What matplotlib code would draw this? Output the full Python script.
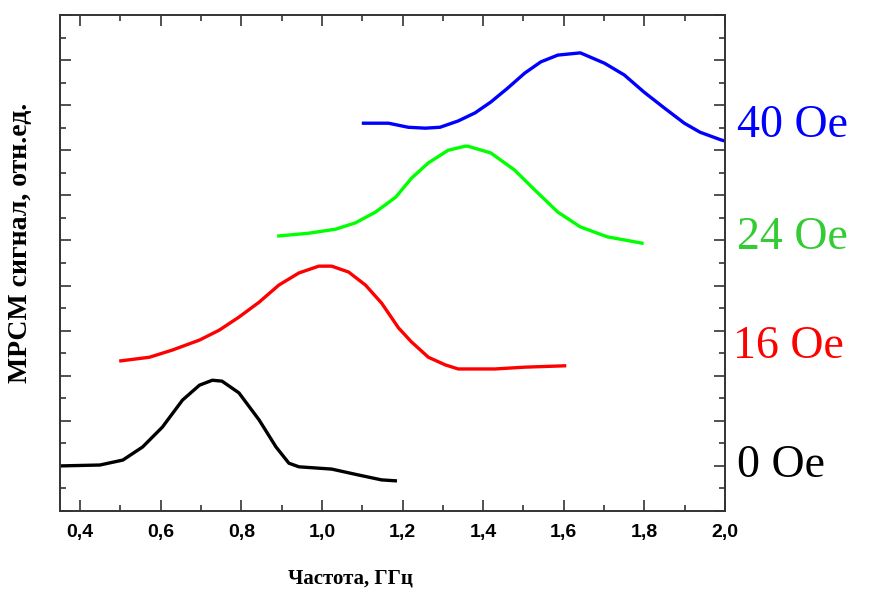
import numpy as np
import matplotlib
matplotlib.use('Agg')
import matplotlib.pyplot as plt
from matplotlib.ticker import MultipleLocator, FuncFormatter

# curves (frequency GHz, signal in arb. units with offsets)
f_0 = [0.35, 0.449, 0.506, 0.555, 0.604, 0.654, 0.696, 0.728, 0.752, 0.794,
       0.844, 0.886, 0.918, 0.943, 1.024, 1.09, 1.148, 1.182]
s_0 = [1.0, 1.02, 1.13, 1.42, 1.86, 2.46, 2.79, 2.90, 2.88, 2.62,
       2.02, 1.42, 1.06, 0.98, 0.93, 0.80, 0.69, 0.67]

f_16 = [0.501, 0.572, 0.629, 0.696, 0.745, 0.794, 0.844, 0.893, 0.943, 0.992,
        1.024, 1.066, 1.108, 1.148, 1.190, 1.222, 1.264, 1.306, 1.338, 1.429,
        1.503, 1.602]
s_16 = [3.33, 3.41, 3.57, 3.79, 4.01, 4.30, 4.63, 5.01, 5.28, 5.43,
        5.43, 5.30, 5.01, 4.61, 4.06, 3.75, 3.41, 3.24, 3.15, 3.15,
        3.19, 3.22]

f_24 = [0.893, 0.967, 1.034, 1.083, 1.133, 1.183, 1.222, 1.264, 1.313, 1.355,
        1.362, 1.419, 1.478, 1.528, 1.585, 1.641, 1.708, 1.794]
s_24 = [6.10, 6.16, 6.25, 6.39, 6.63, 6.96, 7.38, 7.72, 8.00, 8.09,
        8.09, 7.94, 7.56, 7.12, 6.63, 6.30, 6.08, 5.94]

f_40 = [1.103, 1.165, 1.214, 1.256, 1.293, 1.338, 1.380, 1.419, 1.461, 1.503,
        1.543, 1.585, 1.641, 1.701, 1.750, 1.799, 1.849, 1.899, 1.938, 1.990, 2.01]
s_40 = [8.60, 8.60, 8.51, 8.49, 8.51, 8.65, 8.83, 9.07, 9.38, 9.71,
        9.96, 10.11, 10.16, 9.93, 9.67, 9.29, 8.94, 8.60, 8.40, 8.23, 8.18]

labels = ['0 Oe', '16 Oe', '24 Oe', '40 Oe']
label_y = [1.0, 3.65, 6.05, 8.55]
label_x = [2.03, 2.02, 2.03, 2.03]
line_colors = ['black', '#ff0000', '#00ff00', '#0000ff']
text_colors = ['black', '#ff0000', '#33cc33', '#0000ff']

fig = plt.figure(figsize=(8.73, 5.92), dpi=100)
ax = fig.add_axes([0.0687, 0.1368, 0.8305 - 0.0687, 0.9747 - 0.1368])

curves = [(f_0, s_0), (f_16, s_16), (f_24, s_24), (f_40, s_40)]
for (f, s), c in zip(curves, line_colors):
    ax.plot(f, s, color=c, lw=2.4, solid_joinstyle='round')

for lab, x, y, c in zip(labels, label_x, label_y, text_colors):
    ax.text(x, y, lab, color=c, fontsize=33, family='Liberation Serif',
            va='center', ha='left', clip_on=False)

ax.set_xlim(0.35, 2.0)
ax.set_ylim(0, 11)
ax.xaxis.set_major_locator(MultipleLocator(0.2))
ax.xaxis.set_minor_locator(MultipleLocator(0.1))
ax.yaxis.set_major_locator(MultipleLocator(1))
ax.yaxis.set_minor_locator(MultipleLocator(0.5))
ax.xaxis.set_major_formatter(FuncFormatter(lambda v, p: f'{v:.1f}'.replace('.', ',')))
ax.tick_params(which='both', direction='in', top=True, right=True,
               labelleft=False, color='#333333', width=1.2)
ax.tick_params(which='major', length=8)
ax.tick_params(which='minor', length=4)
for lab in ax.get_xticklabels():
    lab.set_family('Liberation Sans')
    lab.set_fontweight('bold')
    lab.set_fontsize(14)
ax.tick_params(axis='x', pad=9)
for sp in ax.spines.values():
    sp.set_linewidth(1.4)
    sp.set_color('#333333')

ax.set_xlabel('Частота, ГГц', family='Liberation Serif', fontweight='bold', fontsize=15)
ax.xaxis.set_label_coords(0.436, -0.115)
ax.set_ylabel('МРСМ сигнал, отн.ед.', family='Liberation Serif', fontweight='bold', fontsize=20)
ax.yaxis.set_label_coords(-0.04, 0.54)

fig.savefig('out.png', dpi=100)
